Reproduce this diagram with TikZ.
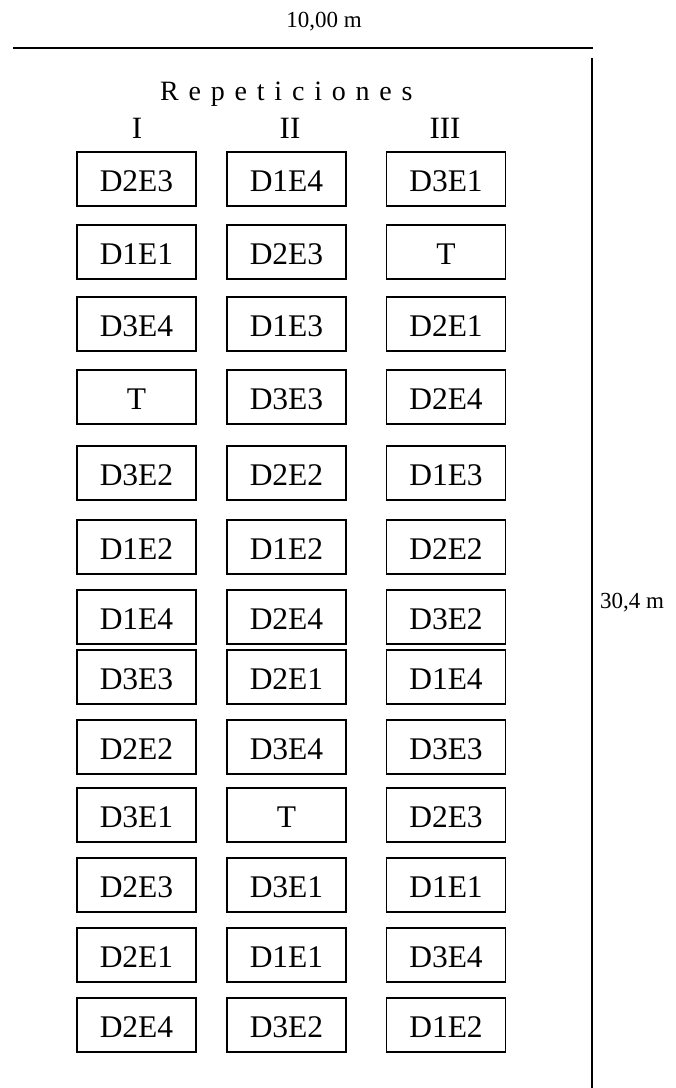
\documentclass[tikz,border=0pt]{standalone}
\usepackage{fontspec}
\setmainfont{Liberation Serif}
\usepackage{tikz}

\tikzset{
  parcela/.style={draw, line width=1.3pt, minimum width=119pt, minimum height=54pt,
    inner sep=0pt, text height=25pt, text depth=0pt, font=\fontsize{31.5}{35}\selectfont},
  rep/.style={font=\fontsize{31}{35}\selectfont, anchor=base},
  cota/.style={font=\fontsize{23}{27}\selectfont}
}

\begin{document}
\begin{tikzpicture}[x=1pt, y=-1pt]
  \useasboundingbox (0,0) rectangle (676,1088);
  % dimension lines
  \coordinate (topL) at (13,48);
  \coordinate (topR) at (593,48);
  \coordinate (vertT) at (592,58);
  \coordinate (vertB) at (592,1088);
  \draw[line width=2pt] (topL) -- (topR);
  \draw[line width=2pt] (vertT) -- (vertB);
  \node[cota] (ancho) at (324,22) {10,00 m};
  \node[cota, anchor=west, inner sep=0pt] (largo) at (600,603) {30,4 m};
  % header
  \node[anchor=base west, inner sep=0pt, font=\fontsize{28}{32}\selectfont\addfontfeature{LetterSpace=35}] (titulo) at (160,100) {Repeticiones};
  \node[rep] (rI) at (137,138) {I};
  \node[rep] (rII) at (290,138) {II};
  \node[rep] (rIII) at (445,138) {III};
  % plots
  \foreach \r/\y/\a/\b/\c in {1/179/D2E3/D1E4/D3E1, 2/252/D1E1/D2E3/T, 3/324/D3E4/D1E3/D2E1,
      4/397/T/D3E3/D2E4, 5/473/D3E2/D2E2/D1E3, 6/547/D1E2/D1E2/D2E2,
      7/617/D1E4/D2E4/D3E2, 8/677/D3E3/D2E1/D1E4, 9/747/D2E2/D3E4/D3E3,
      10/815/D3E1/T/D2E3, 11/885/D2E3/D3E1/D1E1, 12/955/D2E1/D1E1/D3E4,
      13/1025/D2E4/D3E2/D1E2} {
    \node[parcela] (I-\r) at (136.5,\y) {\a};
    \node[parcela] (II-\r) at (286.5,\y) {\b};
    \node[parcela] (III-\r) at (446,\y) {\c};
  }
\end{tikzpicture}
\end{document}
